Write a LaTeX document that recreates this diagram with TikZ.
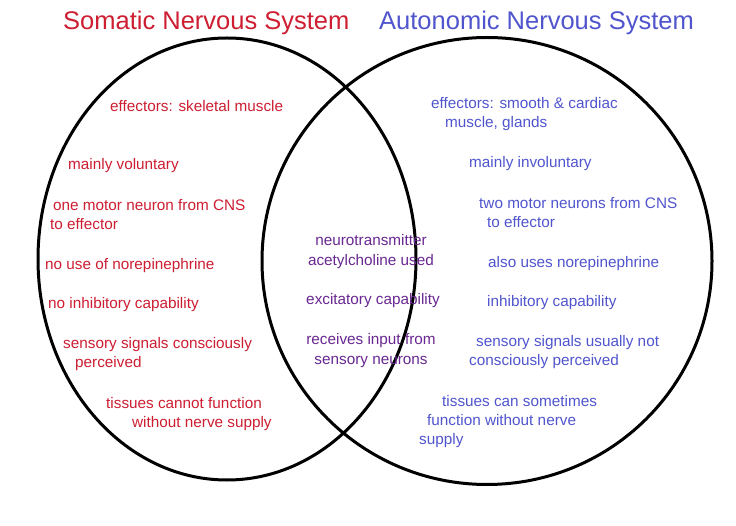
\documentclass[tikz,border=0pt]{standalone}
\usepackage{fontspec}
\setmainfont{Liberation Sans}
\usetikzlibrary{shapes.geometric}
\begin{document}
\begin{tikzpicture}[x=1pt,y=-1pt,
  ring/.style={draw=black,line width=3pt},
  lt/.style={anchor=west,text=somred,font=\fontsize{15.3}{19}\selectfont,align=left,inner sep=0pt},
  rt/.style={anchor=west,text=autblue,font=\fontsize{15.3}{19}\selectfont,align=left,inner sep=0pt},
  mt/.style={anchor=center,text=midpurple,font=\fontsize{15.3}{20}\selectfont,align=center,inner sep=0pt},
  tt/.style={anchor=west,font=\fontsize{25.5}{28}\selectfont,inner sep=0pt}]
\definecolor{somred}{RGB}{205,30,50}
\definecolor{autblue}{RGB}{80,85,205}
\definecolor{midpurple}{RGB}{105,40,145}
\useasboundingbox[fill=white] (0,0) rectangle (736,526);
\node[ring,ellipse,minimum width=378pt,minimum height=442pt,inner sep=0pt] (L) at (227,259) {};
\node[ring,ellipse,minimum width=450pt,minimum height=447pt,inner sep=0pt] (R) at (487,261) {};
\node[tt,text=somred] (t1) at (63,23) {Somatic Nervous System};
\node[tt,text=autblue] (t2) at (379,23) {Autonomic Nervous System};
\node[lt] (l1) at (110,106) {effectors: skeletal muscle};
\node[lt] (l2) at (68,166) {mainly voluntary};
\node[lt] (l3) at (50,215) {\hspace{3pt}one motor neuron from CNS\\to effector};
\node[lt] (l4) at (45,266) {no use of norepinephrine};
\node[lt] (l5) at (48,305) {no inhibitory capability};
\node[lt] (l6) at (63,354) {sensory signals consciously\\\hspace{12pt}perceived};
\node[lt] (l7) at (106,414) {tissues cannot function\\\hspace{26pt}without nerve supply};
\node[mt] (m1) at (371,252) {neurotransmitter\\acetylcholine used};
\node[mt] (m2) at (373,301) {excitatory capability};
\node[mt] (m3) at (371,351) {receives input from\\sensory neurons};
\node[rt] (r1) at (431,114) {effectors: smooth \& cardiac\\\hspace{14pt}muscle, glands};
\node[rt] (r2) at (469,164) {mainly involuntary};
\node[rt] (r3) at (479,213) {two motor neurons from CNS\\\hspace{8pt}to effector};
\node[rt] (r4) at (488,264) {also uses norepinephrine};
\node[rt] (r5) at (487,303) {inhibitory capability};
\node[rt] (r6) at (469,352) {\hspace{7pt}sensory signals usually not\\consciously perceived};
\node[rt] (r7) at (419,422) {\hspace{23pt}tissues can sometimes\\\hspace{8pt}function without nerve\\supply};
\end{tikzpicture}
\end{document}
